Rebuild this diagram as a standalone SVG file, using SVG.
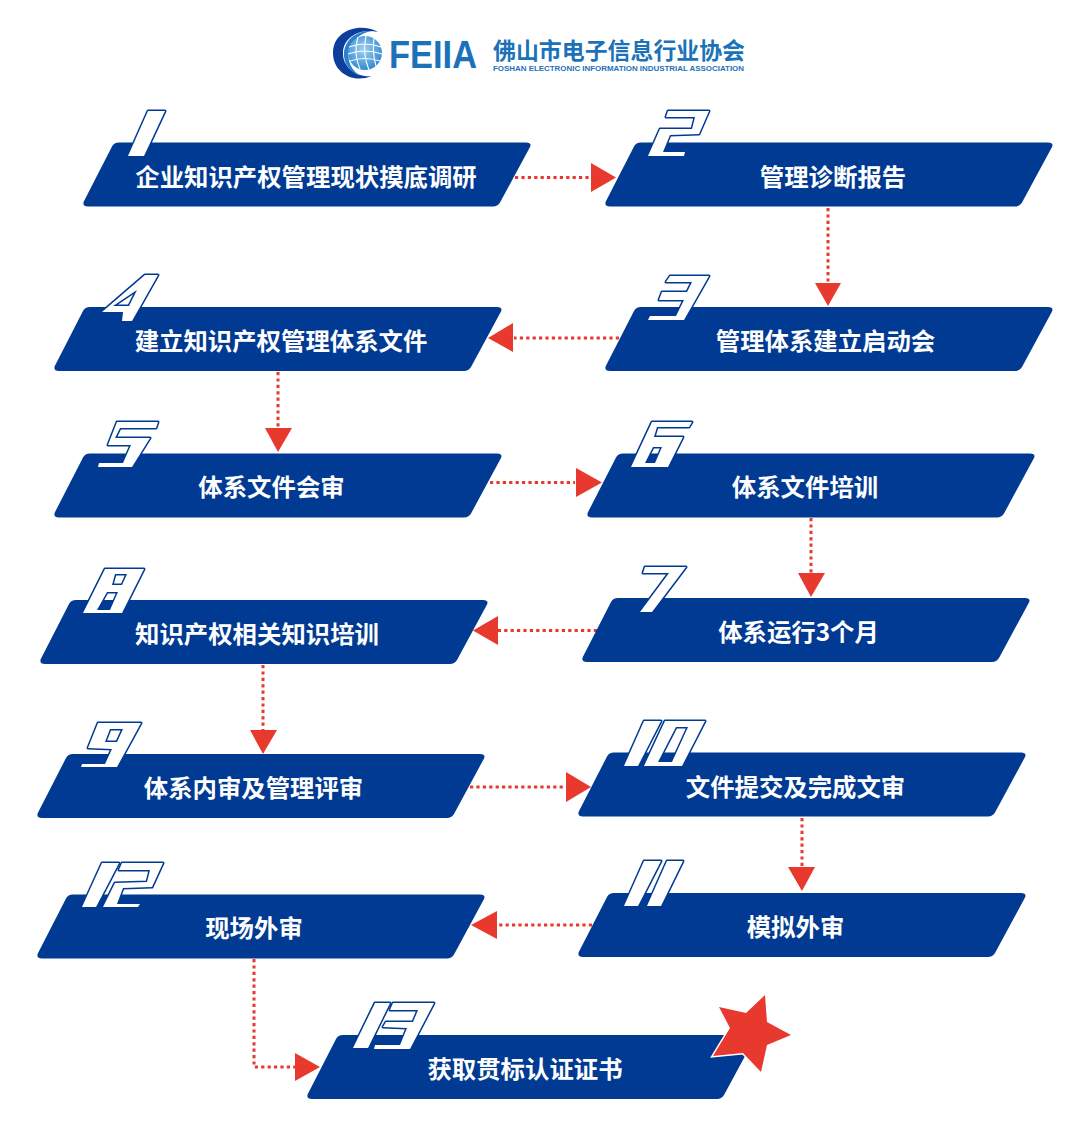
<svg xmlns="http://www.w3.org/2000/svg" width="1080" height="1137" viewBox="0 0 1080 1137">
<defs>
<style>
.band{fill:#013a92}
.dg{fill:#fff;stroke:#013a92;stroke-width:3;stroke-linejoin:round;fill-rule:evenodd;paint-order:stroke}
.lb{font-family:"Noto Sans CJK SC","Noto Sans",sans-serif;font-size:24.4px;font-weight:700;fill:#fff;text-anchor:middle}
.ln{fill:none;stroke:#e8392e;stroke-width:3;stroke-dasharray:3.2 3.2}
.hd{fill:#e8392e}
</style>
<path id="para" d="M36 0H443Q449 0 447 4.500L417 60Q414.500 64 410 64H5Q-1 64 .8 59L29 4Q31 0 36 0Z"/>
<radialGradient id="glb" cx="0.45" cy="0.4" r="0.65"><stop offset="0" stop-color="#9fd0f0"/><stop offset="1" stop-color="#2d86cf"/></radialGradient>
</defs>
<rect width="1080" height="1137" fill="#fff"/>

<g id="logo">
<path d="M378 32C360 22 333 30 333 53C333 72 352 84 372 76C358 78 342 68 343 52C344 37 360 28 378 32Z" fill="#0c3f9c"/>
<path d="M372 31C358 30 346 38 344 52C343 62 349 72 360 76C352 70 347 62 349 52C351 41 360 33 372 31Z" fill="#2a7fce"/>
<circle cx="365" cy="53" r="17" fill="url(#glb)"/>
<path d="M349 47Q365 41 381 47M348 54Q365 48 382 54M350 61Q365 56 380 61M358 37Q353 53 360 69M366 36Q362 53 369 70M374 38Q372 53 376 66" fill="none" stroke="#fff" stroke-width="1.1"/>
<text x="389" y="68" font-family="'Liberation Sans',sans-serif" font-size="39" font-weight="700" fill="#1b72b8" textLength="88" lengthAdjust="spacingAndGlyphs">FEIIA</text>
<text x="493" y="59" font-family="'Noto Sans CJK SC',sans-serif" font-size="22.900" font-weight="700" fill="#1b72b8" textLength="252">佛山市电子信息行业协会</text>
<text x="493" y="71" font-family="'Liberation Sans',sans-serif" font-size="8" font-weight="700" fill="#1b72b8" textLength="251" lengthAdjust="spacingAndGlyphs">FOSHAN ELECTRONIC INFORMATION INDUSTRIAL ASSOCIATION</text>
</g>

<g id="connectors">
<path class="ln" d="M515 177.500H590"/><path class="hd" d="M591 163L616 177.500L591 192Z"/>
<path class="ln" d="M828 208V283"/><path class="hd" d="M815 283H841L828 306Z"/>
<path class="ln" d="M619 338H514"/><path class="hd" d="M513 323L488 338L513 352Z"/>
<path class="ln" d="M278 372V428"/><path class="hd" d="M265 428H292L278 452Z"/>
<path class="ln" d="M490 482.500H575"/><path class="hd" d="M576 468L602 482.500L576 497Z"/>
<path class="ln" d="M811 518V573"/><path class="hd" d="M798 573H825L811 597Z"/>
<path class="ln" d="M597 630.500H498"/><path class="hd" d="M498 616L473 630.500L498 645Z"/>
<path class="ln" d="M263 665V730"/><path class="hd" d="M250 730H277L263 754Z"/>
<path class="ln" d="M470 787H565"/><path class="hd" d="M566 772L591 787L566 802Z"/>
<path class="ln" d="M802 818V867"/><path class="hd" d="M788 867H815L802 891Z"/>
<path class="ln" d="M592 925H497"/><path class="hd" d="M497 911L471 925L497 939Z"/>
<path class="ln" d="M254 959V1067H295"/><path class="hd" d="M295 1053L320 1067L295 1081Z"/>
</g>

<g id="node1"><use href="#para" class="band" x="83" y="142.500"/><path class="dg" d="M128 156L148 111H165L144 156Z"/><text class="lb" x="306" y="186">企业知识产权管理现状摸底调研</text></g>
<g id="node2"><use href="#para" class="band" x="605" y="142.500"/><path class="dg" d="M668 111H709L699 134L670 135L663 152H685L684 156H648L660 129H692L695 117H666Z"/><text class="lb" x="833" y="186">管理诊断报告</text></g>
<g id="node3"><use href="#para" class="band" x="605" y="307"/><path class="dg" d="M670 276H709L684 320H648L650 316H676L684 300H659L662 292H687L692 282H666Z"/><text class="lb" x="825.500" y="350">管理体系建立启动会</text></g>
<g id="node4"><use href="#para" class="band" x="54" y="307"/><path class="dg" d="M145 275H158L132 321H122L123 312H102ZM137 290L129 306H113Z"/><text class="lb" x="281" y="350">建立知识产权管理体系文件</text></g>
<g id="node5"><use href="#para" class="band" x="54" y="453.500"/><path class="dg" d="M117 422H158L156 428H120L115 438H150L132 467H98L99 463H123L131 445H108Z"/><text class="lb" x="271.500" y="496">体系文件会审</text></g>
<g id="node6"><use href="#para" class="band" x="587" y="453.500"/><path class="dg" d="M652 422H692L689 427H657L654 437H683L668 467H631ZM653 447H662L655 463H645Z"/><text class="lb" x="805" y="496">体系文件培训</text></g>
<g id="node7"><use href="#para" class="band" x="582" y="598"/><path class="dg" d="M645 567H686L652 612H640L669 573H643Z"/><text class="lb" x="798.500" y="641">体系运行3个月</text></g>
<g id="node8"><use href="#para" class="band" x="40" y="600"/><path class="dg" d="M105 569H144L122 613H83ZM115 574H127L122 585H112ZM107 592H118L110 610H97Z"/><text class="lb" x="257" y="643">知识产权相关知识培训</text></g>
<g id="node9"><use href="#para" class="band" x="37" y="754"/><path class="dg" d="M98 723H141L117 767H81L82 764H105L112 749L88 748ZM110 729H123L117 742H105Z"/><text class="lb" x="253.500" y="797">体系内审及管理评审</text></g>
<g id="node10"><use href="#para" class="band" x="578" y="752.500"/><path class="dg" d="M644 721H661L638 766H624Z"/><path class="dg" d="M665 721H705L682 766H644ZM676 727H688L672 762H658Z"/><text class="lb" x="795.500" y="796">文件提交及完成文审</text></g>
<g id="node11"><use href="#para" class="band" x="578" y="893"/><path class="dg" d="M644 861H661L638 906H624Z"/><path class="dg" d="M667 861H683L661 906H647Z"/><text class="lb" x="795.500" y="936">模拟外审</text></g>
<g id="node12"><use href="#para" class="band" x="37" y="894.500"/><path class="dg" d="M102 863H119L96 907H82Z"/><path class="dg" d="M122 863H163L152 887L123 888L117 904H140L138 907H103L115 883L147 882L150 870H119Z"/><text class="lb" x="254" y="937">现场外审</text></g>
<g id="node13"><use href="#para" class="band" x="307" y="1035"/><path class="dg" d="M375 1003H390L368 1048H353Z"/><path class="dg" d="M393 1003H434L410 1049H374L375 1045H400L407 1028L383 1027L386 1022H413L418 1010H390Z"/><text class="lb" x="525" y="1078">获取贯标认证证书</text>
<path d="M765 995L767 1022L791 1035L767 1045L761 1072L743 1053L713 1056L730 1028L719 1007L746 1013Z" fill="#e8392e" stroke="#fff" stroke-width="3" paint-order="stroke"/></g>
</svg>
